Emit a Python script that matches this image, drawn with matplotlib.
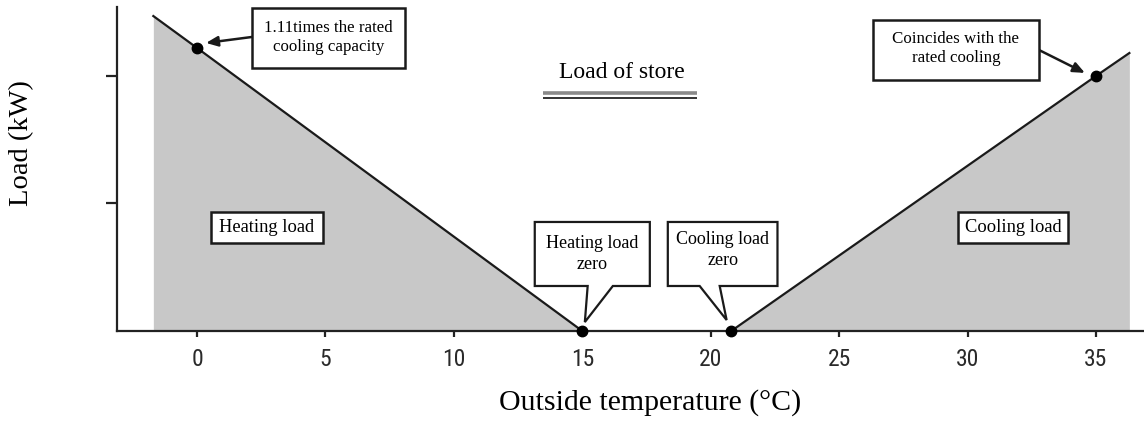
import matplotlib
matplotlib.use("Agg")
import matplotlib.pyplot as plt
from matplotlib.patches import Polygon, Rectangle
from matplotlib import font_manager

# ---------------- data ----------------
x_ticks = [0, 5, 10, 15, 20, 25, 30, 35]
y_ticks = [1, 2]
heat_temps = [-1.7, 0.0, 15.0]
heat_loads = [2.47, 2.22, 0.0]
cool_temps = [20.8, 35.0, 36.3]
cool_loads = [0.0, 2.0, 2.18]
mark_temps = [0.0, 15.0, 20.8, 35.0]
mark_loads = [2.22, 0.0, 0.0, 2.0]

SERIF = ["Liberation Serif", "DejaVu Serif"]
_names = {f.name for f in font_manager.fontManager.ttflist}
NARROW = [n for n in ["Roboto Condensed", "Liberation Sans Narrow", "Liberation Sans", "DejaVu Sans"]
          if n in _names] or ["DejaVu Sans"]

fig = plt.figure(figsize=(11.44, 4.25), dpi=100)
ax = fig.add_axes([117 / 1144, 94 / 425, 1 - 117 / 1144, (331 - 7) / 425])
ax.set_xlim(-3.115, 36.87)
ax.set_ylim(0, 2.541)

fill_c = "#c8c8c8"
ax.fill_between(heat_temps, heat_loads, 0, color=fill_c, lw=0, zorder=1)
ax.fill_between(cool_temps, cool_loads, 0, color=fill_c, lw=0, zorder=1)
ax.plot(heat_temps, heat_loads, color="#1a1a1a", lw=1.6, zorder=3)
ax.plot(cool_temps, cool_loads, color="#1a1a1a", lw=1.6, zorder=3)
ax.plot(mark_temps, mark_loads, "o", color="black", ms=7.5, zorder=6, clip_on=False)

for s in ["top", "right"]:
    ax.spines[s].set_visible(False)
for s in ["left", "bottom"]:
    ax.spines[s].set_linewidth(1.6)
    ax.spines[s].set_color("#222222")
    ax.spines[s].set_zorder(4)

ax.set_xticks(x_ticks)
ax.set_xticklabels([str(t) for t in x_ticks], family=NARROW, fontsize=17,
                   color="#2a2a2a")
ax.tick_params(axis="x", length=4, width=1.6, pad=8, color="#222222")
ax.set_yticks(y_ticks)
ax.set_yticklabels([])
ax.tick_params(axis="y", length=8, width=1.6, color="#222222")

fig.text(650 / 1144, 1 - 403 / 425, "Outside temperature (°C)", family=SERIF,
         fontsize=21.5, ha="center", va="center")
fig.text(22 / 1144, 1 - 143 / 425, "Load (kW)", family=SERIF, fontsize=20.5,
         ha="center", va="center", rotation=90)

# Title-like label with double underline
ax.text(16.55, 2.03, "Load of store", family=SERIF, fontsize=17,
        ha="center", va="center", zorder=7)
ax.plot([13.47, 19.47], [1.868, 1.868], color="#8a8a8a", lw=2.6, solid_capstyle="butt")
ax.plot([13.47, 19.47], [1.828, 1.828], color="#333333", lw=1.4, solid_capstyle="butt")


def box(x0, x1, y0, y1, text, fs=12, dy=0.0):
    r = Rectangle((x0, y0), x1 - x0, y1 - y0, facecolor="white", edgecolor="#1a1a1a",
                  lw=1.8, zorder=8, clip_on=False)
    ax.add_patch(r)
    ax.text((x0 + x1) / 2, (y0 + y1) / 2 + dy, text, family=SERIF, fontsize=fs,
            ha="center", va="center", zorder=9, linespacing=1.25)


box(0.545, 4.905, 0.69, 0.933, "Heating load", fs=13.3)
box(29.63, 33.91, 0.69, 0.933, "Cooling load", fs=13.3)
box(2.14, 8.1, 2.063, 2.533, "1.11times the rated\ncooling capacity", fs=12.2)
box(26.32, 32.78, 1.969, 2.439, "Coincides with the\nrated cooling", fs=12.2, dy=0.01)

# arrows from boxes to points
ax.annotate("", xy=(0.35, 2.259), xytext=(2.14, 2.306),
            arrowprops=dict(arrowstyle="-|>,head_length=0.7,head_width=0.3",
                            color="#1a1a1a", lw=1.8, shrinkA=0, shrinkB=0), zorder=7)
ax.annotate("", xy=(34.57, 2.024), xytext=(32.78, 2.204),
            arrowprops=dict(arrowstyle="-|>,head_length=0.7,head_width=0.3",
                            color="#1a1a1a", lw=1.8, shrinkA=0, shrinkB=0), zorder=7)


def callout(x0, x1, y0, y1, b0, b1, tip, text, dy=0.0):
    pts = [(x0, y1), (x1, y1), (x1, y0), (b1, y0), tip, (b0, y0), (x0, y0)]
    p = Polygon(pts, closed=True, facecolor="white", edgecolor="#1a1a1a", lw=1.6,
                zorder=8, joinstyle="miter")
    ax.add_patch(p)
    ax.text((x0 + x1) / 2, (y0 + y1) / 2 + dy, text, family=SERIF, fontsize=13,
            ha="center", va="center", zorder=9, linespacing=1.3)


callout(13.15, 17.63, 0.353, 0.855, 15.21, 16.19, (15.1, 0.07), "Heating load\nzero")
callout(18.33, 22.6, 0.353, 0.855, 19.57, 20.35, (20.62, 0.086), "Cooling load\nzero", dy=0.03)

fig.savefig("out.png", dpi=100)
